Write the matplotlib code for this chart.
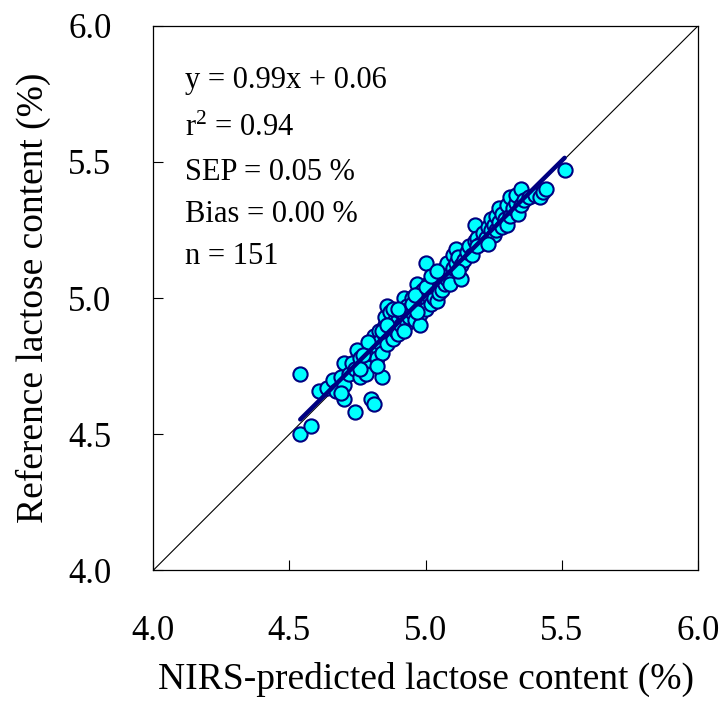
import numpy as np
import matplotlib
matplotlib.use("Agg")
import matplotlib.pyplot as plt

plt.rcParams['font.family'] = ['Liberation Serif', 'DejaVu Serif']
plt.rcParams['mathtext.fontset'] = 'custom'
plt.rcParams['mathtext.rm'] = 'Liberation Serif'
plt.rcParams['mathtext.it'] = 'Liberation Serif'

# NIRS-predicted vs reference lactose (%)
predicted = [
    4.54, 4.54, 4.58, 4.61, 4.64, 4.66, 4.67, 4.69, 4.70, 4.70, 4.70, 4.69,
    4.72, 4.73, 4.74, 4.74, 4.75, 4.76, 4.76, 4.77, 4.78, 4.78, 4.79, 4.80,
    4.81, 4.80, 4.81, 4.81, 4.82, 4.82, 4.83, 4.83, 4.84, 4.84, 4.85, 4.85,
    4.85, 4.86, 4.86,
    4.87, 4.87, 4.88, 4.88, 4.89, 4.89, 4.90, 4.90, 4.91, 4.91, 4.92, 4.92,
    4.93, 4.93, 4.94, 4.94, 4.95, 4.95, 4.96, 4.96, 4.97, 4.97, 4.98, 4.98,
    4.98, 4.99, 4.99, 5.00, 5.00,
    5.00, 5.01, 5.01, 5.02, 5.02, 5.03, 5.03, 5.04, 5.04, 5.05, 5.05, 5.06,
    5.06, 5.07, 5.07, 5.08, 5.08, 5.09, 5.09, 5.10, 5.10, 5.11, 5.11, 5.12,
    5.13, 5.13, 5.14, 5.15,
    5.16, 5.17, 5.18, 5.18, 5.19, 5.20, 5.21, 5.22, 5.23, 5.24, 5.24, 5.25,
    5.25, 5.26, 5.26, 5.27, 5.27, 5.28, 5.28, 5.29, 5.30, 5.30, 5.31, 5.31,
    5.32, 5.33,
    5.33, 5.34, 5.35, 5.35, 5.36, 5.38, 5.40, 5.42, 5.43, 5.44, 5.51,
    4.82, 4.84, 4.86, 4.88, 4.90, 4.92, 4.95, 4.96, 4.97, 5.00, 5.02, 5.04,
    4.79, 4.77, 4.76, 5.12, 5.19, 5.23,
]
reference = [
    4.72, 4.50, 4.53, 4.66, 4.67, 4.70, 4.66, 4.71, 4.68, 4.63, 4.76, 4.65,
    4.72, 4.76, 4.74, 4.58, 4.81, 4.78, 4.71, 4.75, 4.77, 4.72, 4.80, 4.63,
    4.61, 4.83, 4.79, 4.86, 4.82, 4.78, 4.88, 4.84, 4.71, 4.80, 4.90, 4.86,
    4.93, 4.97, 4.83,
    4.89, 4.95, 4.85, 4.91, 4.93, 4.88, 4.92, 4.87, 4.95, 4.90, 4.94, 5.00,
    4.91, 4.97, 4.96, 4.93, 5.00, 4.95, 4.92, 4.98, 5.05, 4.99, 4.94, 4.90,
    5.02, 4.98, 5.03, 5.00, 4.96,
    5.13, 5.05, 5.01, 4.98, 5.03, 5.07, 5.00, 5.04, 4.99, 5.06, 5.02, 5.09,
    5.03, 5.05, 5.11, 5.07, 5.13, 5.09, 5.05, 5.16, 5.11, 5.18, 5.13, 5.15,
    5.12, 5.07, 5.14, 5.17,
    5.19, 5.16, 5.27, 5.21, 5.22, 5.20, 5.24, 5.22, 5.26, 5.25, 5.29, 5.27,
    5.23, 5.30, 5.25, 5.33, 5.28, 5.26, 5.31, 5.29, 5.34, 5.27, 5.37, 5.30,
    5.33, 5.35,
    5.38, 5.31, 5.40, 5.34, 5.36, 5.37, 5.38, 5.37, 5.39, 5.40, 5.47,
    4.75, 4.88, 4.90, 4.96, 4.96, 4.88, 4.98, 5.01, 4.95, 5.04, 5.08, 5.10,
    4.84, 4.79, 4.74, 5.10, 5.19, 5.20,
]

slope, intercept = 0.99, 0.06
stats_lines = [
    "y = 0.99x + 0.06",
    "r$^{2}$ = 0.94",
    "SEP = 0.05 %",
    "Bias = 0.00 %",
    "n = 151",
]
ticks = [4.0, 4.5, 5.0, 5.5, 6.0]

fig = plt.figure(figsize=(7.22, 7.14), dpi=100)
ax = fig.add_axes([0.212, 0.201, 0.755, 0.763])

ax.plot([4.0, 6.0], [4.0, 6.0], color='black', lw=0.8, zorder=1)
ax.scatter(predicted, reference, s=105, facecolor='#00FFFF',
           edgecolor='#000080', linewidth=1.5, zorder=2)

xs = np.array([min(predicted), max(predicted)])
ax.plot(xs, slope * xs + intercept, color='#000080', lw=3.2,
        solid_capstyle='round', zorder=3)

ax.set_xlim(4.0, 6.0)
ax.set_ylim(4.0, 6.0)
ax.set_xticks(ticks)
ax.set_yticks(ticks)
ax.set_xticklabels([f"{t:.1f}" for t in ticks])
ax.set_yticklabels([f"{t:.1f}" for t in ticks])
ax.tick_params(axis='x', direction='in', length=7, width=0.8,
               labelsize=25, pad=32)
ax.tick_params(axis='y', direction='in', length=7, width=0.8,
               labelsize=25, pad=30)
for sp in ax.spines.values():
    sp.set_linewidth(0.9)

ax.set_xlabel("NIRS-predicted lactose content (%)", fontsize=27, labelpad=10)
ax.set_ylabel("Reference lactose content (%)", fontsize=27, labelpad=12)

for txt, yf in zip(stats_lines, [0.899, 0.811, 0.731, 0.654, 0.577]):
    ax.text(0.059, yf, txt, transform=ax.transAxes, fontsize=22,
            va='center', ha='left')

fig.savefig("out.png", dpi=100)
